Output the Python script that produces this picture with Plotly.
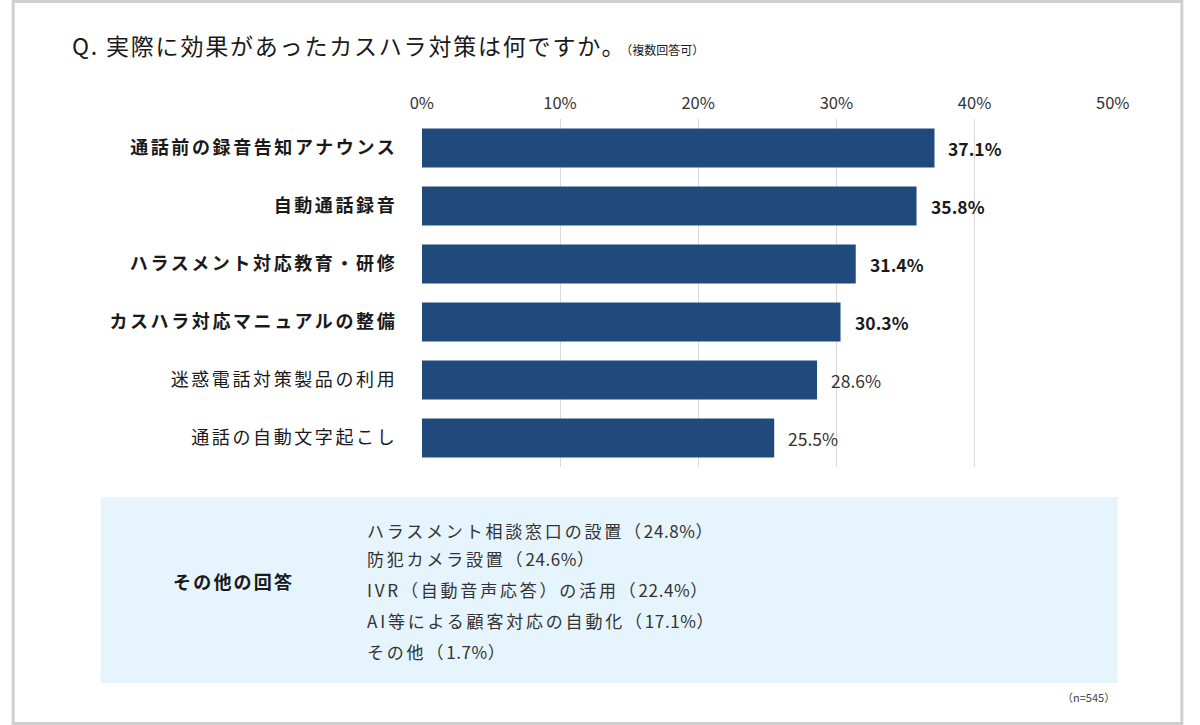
import plotly.graph_objects as go

categories = ["通話前の録音告知アナウンス", "自動通話録音", "ハラスメント対応教育・研修",
              "カスハラ対応マニュアルの整備", "迷惑電話対策製品の利用", "通話の自動文字起こし"]
values = [37.1, 35.8, 31.4, 30.3, 28.6, 25.5]
emphasis = [True, True, True, True, False, False]
tick_vals = [0, 10, 20, 30, 40, 50]
tick_text = ["0%", "10%", "20%", "30%", "40%", "50%"]
other_title = "その他の回答"
other_answers = ["ハラスメント相談窓口の設置（24.8%）", "防犯カメラ設置（24.6%）",
                 "IVR（自動音声応答）の活用（22.4%）", "AI等による顧客対応の自動化（17.1%）",
                 "その他（1.7%）"]
title_main = "Q. 実際に効果があったカスハラ対策は何ですか。"
title_sub = "（複数回答可）"
n_note = "（n=545）"

FONT = "Noto Sans CJK JP"
W, H = 1200, 725

def fx(px):
    return px / W

def fy(py):
    return 1 - py / H

def ls(t, sp):
    return f"<span style='letter-spacing:{sp}px'>{t}</span>"

def list_item(t):
    head, sep, tail = t.rpartition("（")
    return ls(head + sep, 2.8) + ls(tail, 0.6)

ylabels = [f"<b>{ls(c, 2.6)}</b>" if e else ls(c, 2.6) for c, e in zip(categories, emphasis)]

fig = go.Figure()
fig.add_trace(go.Bar(
    x=values, y=ylabels, orientation="h",
    marker=dict(color="#204a7c", line=dict(width=0)),
    width=0.67, hoverinfo="skip",
))

annotations = []
for lab, v, e in zip(ylabels, values, emphasis):
    t = f"{v:.1f}%"
    annotations.append(dict(
        x=v, y=lab, xref="x", yref="y", text=f"<b>{t}</b>" if e else t,
        showarrow=False, xanchor="left", yanchor="middle", xshift=12,
        font=dict(family=FONT, size=17.5, color="#1a1a1a" if e else "#333333"),
    ))

annotations.append(dict(
    x=fx(59), y=fy(45), xref="paper", yref="paper", xanchor="left", yanchor="middle",
    text=f"{ls(title_main, 1.8)}<span style='font-size:12px'>{title_sub}</span>",
    showarrow=False, font=dict(family=FONT, size=23, color="#1a1a1a"),
))
annotations.append(dict(
    x=fx(163), y=fy(581), xref="paper", yref="paper", xanchor="left", yanchor="middle",
    text=f"<b>{ls(other_title, 2.2)}</b>", showarrow=False,
    font=dict(family=FONT, size=18, color="#1a1a1a"),
))
line_y = [530, 558, 589, 620, 651]
for t, yy in zip(other_answers, line_y):
    annotations.append(dict(
        x=fx(362), y=fy(yy), xref="paper", yref="paper", xanchor="left", yanchor="middle",
        text=list_item(t), showarrow=False, font=dict(family=FONT, size=17, color="#333333"),
    ))
annotations.append(dict(
    x=fx(1132), y=fy(697), xref="paper", yref="paper", xanchor="right", yanchor="middle",
    text=n_note, showarrow=False, font=dict(family=FONT, size=11, color="#444444"),
))

shapes = [
    dict(type="rect", xref="paper", yref="paper", x0=fx(91), x1=fx(1133), y0=fy(683), y1=fy(497),
         fillcolor="#e6f4fd", line=dict(width=0), layer="below"),
    dict(type="rect", xref="paper", yref="paper", x0=0.001, x1=0.999, y0=0.002, y1=0.998,
         fillcolor="rgba(0,0,0,0)", line=dict(color="#cfcfcf", width=3)),
]

fig.update_layout(
    width=W, height=H, margin=dict(l=0, r=0, t=0, b=0),
    paper_bgcolor="white", plot_bgcolor="white", showlegend=False,
    font=dict(family=FONT, color="#1a1a1a"),
    xaxis=dict(domain=[fx(420), fx(1128)], range=[0, 50], side="top",
               tickvals=tick_vals, ticktext=tick_text,
               tickfont=dict(family=FONT, size=16.5, color="#333333"),
               showgrid=True, gridcolor="#d9d9d9", gridwidth=1, zeroline=False,
               showline=False, ticks="outside", ticklen=2, tickcolor="rgba(0,0,0,0)",
               fixedrange=True),
    yaxis=dict(domain=[fy(467), fy(119)], autorange="reversed",
               tickfont=dict(family=FONT, size=18, color="#1a1a1a"),
               showgrid=False, zeroline=False, showline=False, ticks="outside",
               ticklen=20, tickcolor="rgba(0,0,0,0)", fixedrange=True),
    annotations=annotations, shapes=shapes,
)

post = (
    "document.documentElement.style.overflow='hidden';"
    "document.body.style.margin='0';document.body.style.padding='0';"
    "document.body.style.overflow='hidden';"
)

fig.write_html("out.html", config={"displayModeBar": False}, post_script=post)
